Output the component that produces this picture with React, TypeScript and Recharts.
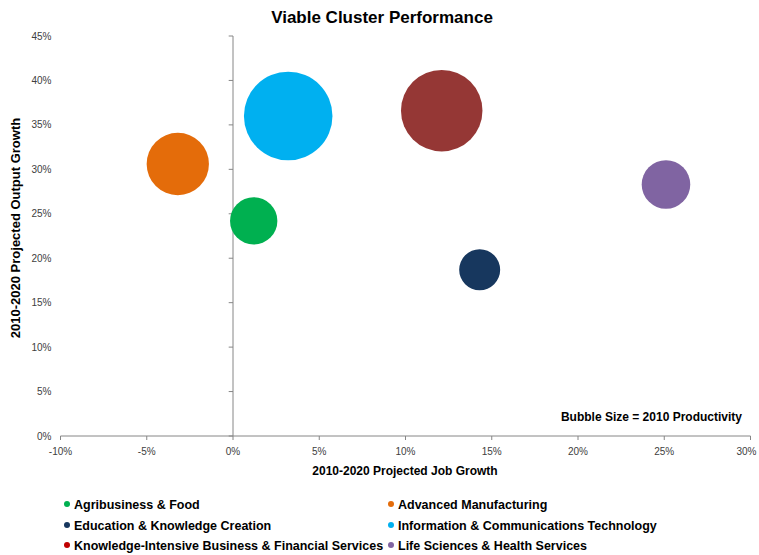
import React from "react";
import {
  ScatterChart,
  Scatter,
  XAxis,
  YAxis,
  ZAxis,
  ReferenceLine,
  Legend,
} from "recharts";

// ---- data ----
const clusters = [
  "Agribusiness & Food",
  "Advanced Manufacturing",
  "Education & Knowledge Creation",
  "Information & Communications Technology",
  "Knowledge-Intensive Business & Financial Services",
  "Life Sciences & Health Services",
];
const jobGrowth = [1.2, -3.2, 14.3, 3.2, 12.1, 25.1]; // %
const outputGrowth = [24.2, 30.6, 18.7, 36.0, 36.6, 28.3]; // %
const productivity = [56, 97, 42, 196, 166, 59]; // 2010 productivity ($k)
const colors = ["#00B050", "#E46C0A", "#17375E", "#00B0F0", "#953735", "#8064A2"];
const legendColors = ["#00B050", "#E46C0A", "#17375E", "#00B0F0", "#C00000", "#8064A2"];
const xTicks = [-10, -5, 0, 5, 10, 15, 20, 25, 30];
const yTicks = [0, 5, 10, 15, 20, 25, 30, 35, 40, 45];

const FONT = "'Liberation Sans', Arial, sans-serif";
const AXIS = "#868686";

const pct = (v: number) => `${v}%`;

const XTick = (props: any) => {
  const { x, y, payload } = props;
  const last = payload.value === xTicks[xTicks.length - 1];
  return (
    <text
      x={x}
      y={y}
      dy="0.71em"
      dx={last ? -4 : 0}
      textAnchor="middle"
      style={{ fontFamily: FONT, fontSize: 10, fill: "#404040" }}
    >
      {pct(payload.value)}
    </text>
  );
};

const LegendContent = () => (
  <div style={{ position: "relative", width: 759, height: 60, fontFamily: FONT }}>
    {clusters.map((name, i) => {
      const col = i % 2;
      const row = Math.floor(i / 2);
      return (
        <div
          key={name}
          style={{
            position: "absolute",
            left: col === 0 ? 64 : 388,
            top: row * 20.5 + 1,
            height: 18,
            lineHeight: "18px",
            fontSize: 12.5,
            fontWeight: "bold",
            color: "#000",
            whiteSpace: "nowrap",
            display: "flex",
            alignItems: "center",
          }}
        >
          <span
            style={{
              display: "inline-block",
              width: 6,
              height: 6,
              borderRadius: 3,
              background: legendColors[i],
              marginRight: 4,
              position: "relative",
              top: -1,
            }}
          />
          {name}
        </div>
      );
    })}
  </div>
);

export default function App() {
  return (
    <div style={{ position: "absolute", left: 0, top: 0, width: 759, height: 555, background: "#fff" }}>
      <ScatterChart
        width={759}
        height={555}
        margin={{ top: 36, right: 8.5, bottom: 89, left: 0 }}
      >
        <XAxis
          type="number"
          dataKey="x"
          domain={[-10, 30]}
          ticks={xTicks}
          height={30}
          axisLine={{ stroke: AXIS }}
          tickLine={{ stroke: AXIS }}
          tickSize={4}
          tickMargin={8}
          tick={<XTick />}
          interval={0}
        />
        <YAxis
          type="number"
          dataKey="y"
          domain={[0, 45]}
          ticks={yTicks}
          tickFormatter={pct}
          width={60.5}
          axisLine={false}
          tickLine={false}
          tickMargin={3}
          tick={{ fontSize: 10, fill: "#404040", fontFamily: FONT }}
          interval={0}
        />
        <ZAxis type="number" dataKey="z" domain={[0, 200]} range={[0, 6283]} />
        <ReferenceLine x={0} stroke={AXIS} strokeWidth={1} ifOverflow="extendDomain" />
        {yTicks.map((t) => (
          <ReferenceLine
            key={`yt${t}`}
            segment={[
              { x: -0.25, y: t },
              { x: 0, y: t },
            ]}
            stroke={AXIS}
          />
        ))}
        {clusters.map((name, i) => (
          <Scatter
            key={name}
            name={name}
            data={[{ x: jobGrowth[i], y: outputGrowth[i], z: productivity[i] }]}
            fill={colors[i]}
            isAnimationActive={false}
          />
        ))}
        <Legend
          layout="horizontal"
          verticalAlign="middle"
          align="center"
          content={<LegendContent />}
          wrapperStyle={{ left: 0, top: 495, width: 759, height: 60 }}
        />
        <text
          x={382}
          y={23}
          textAnchor="middle"
          style={{ fontFamily: FONT, fontSize: 17, fontWeight: "bold", fill: "#000" }}
        >
          Viable Cluster Performance
        </text>
        <text
          x={405}
          y={475}
          textAnchor="middle"
          style={{ fontFamily: FONT, fontSize: 12, fontWeight: "bold", fill: "#000" }}
        >
          2010-2020 Projected Job Growth
        </text>
        <text
          x={20}
          y={228}
          textAnchor="middle"
          transform="rotate(-90 20 228)"
          style={{ fontFamily: FONT, fontSize: 13, fontWeight: "bold", fill: "#000" }}
        >
          2010-2020 Projected Output Growth
        </text>
        <text
          x={742}
          y={421}
          textAnchor="end"
          style={{ fontFamily: FONT, fontSize: 12, fontWeight: "bold", fill: "#000" }}
        >
          Bubble Size = 2010 Productivity
        </text>
      </ScatterChart>
    </div>
  );
}
